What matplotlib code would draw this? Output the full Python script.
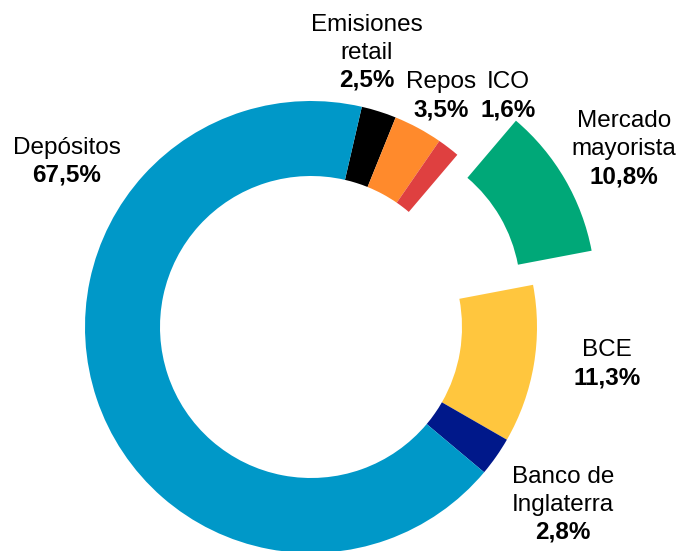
import matplotlib
matplotlib.use("Agg")
import matplotlib.pyplot as plt

plt.rcParams['font.family'] = ['Liberation Sans', 'DejaVu Sans']

# Funding structure, clockwise from the top
names = ['Emisiones\nretail', 'Repos', 'ICO', 'Mercado\nmayorista',
         'BCE', 'Banco de\nInglaterra', 'Depósitos']
shares = [2.5, 3.5, 1.6, 10.8, 11.3, 2.8, 67.5]
colours = ['#000000', '#FF8A2C', '#DF4040', '#00A878',
           '#FFC63E', '#00188A', '#0098C8']
explode = [0, 0, 0, 0.30, 0, 0, 0]

# label anchors in figure pixels (x centre, baseline of the % line)
lbl_pos = [(367, 87), (441, 116), (508, 116), (624, 183),
           (607, 384), (563, 539), (67, 182)]
LINE = 28
FS = 17.5

W, H = 677, 551
CX, CY, R = 311, 327, 226   # pie centre / radius in pixels

fig = plt.figure(figsize=(W/100, H/100), dpi=100)
ax = fig.add_axes([0, 0, 1, 1])

ax.pie(shares, colors=colours, explode=explode, startangle=77,
       counterclock=False, radius=1.0,
       wedgeprops=dict(width=75/R, linewidth=0))

ax.set_xlim(-CX/R, (W-CX)/R)
ax.set_ylim(-(H-CY)/R, CY/R)
ax.set_aspect('auto')
ax.axis('off')

for name, val, (px, py) in zip(names, shares, lbl_pos):
    pct = ("%.1f%%" % val).replace('.', ',')
    fig.text(px/W, 1-py/H, pct, ha='center', va='baseline',
             fontsize=FS, fontweight='bold')
    lines = name.split('\n')
    for k, ln in enumerate(reversed(lines)):
        fig.text(px/W, 1-(py-LINE*(k+1))/H, ln, ha='center',
                 va='baseline', fontsize=FS)

fig.savefig("out.png", dpi=100)
